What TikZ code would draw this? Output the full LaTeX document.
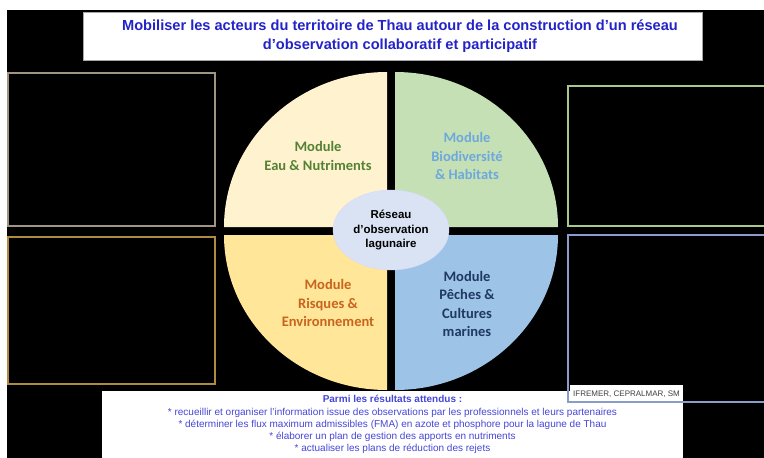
\documentclass[tikz,border=0pt]{standalone}
\usepackage{fontspec}
\setmainfont{Carlito}
\newfontfamily\arialfont{Liberation Sans}
\usetikzlibrary{shapes.geometric}

\definecolor{titleblue}{RGB}{35,35,200}
\definecolor{textblue}{RGB}{70,70,215}
\definecolor{eaufill}{RGB}{255,242,206}
\definecolor{biofill}{RGB}{197,224,180}
\definecolor{risqfill}{RGB}{255,230,153}
\definecolor{pechfill}{RGB}{157,195,230}
\definecolor{centrefill}{RGB}{218,227,243}
\definecolor{eautext}{RGB}{84,130,53}
\definecolor{biotext}{RGB}{111,168,220}
\definecolor{risqtext}{RGB}{200,100,30}
\definecolor{pechtext}{RGB}{31,56,100}
\definecolor{taupe}{RGB}{160,148,130}
\definecolor{gold}{RGB}{176,138,62}
\definecolor{sage}{RGB}{169,201,138}
\definecolor{lavender}{RGB}{138,156,200}

\begin{document}
\begin{tikzpicture}[x=1pt,y=-1pt]

      \useasboundingbox (0,0) rectangle (764,458);
      \clip (0,0) rectangle (764,458);
      \fill[white] (0,0) rectangle (764,458);
      \fill[black] (7,10) rectangle (764,458);

      % cadres lateraux
      \begin{scope}[line width=1.6pt]
        \draw[taupe] (8,73) rectangle (215,226);
        \draw[gold]  (8,237) rectangle (215,384);
        \draw[sage]  (568,86) rectangle (775,226);
      \end{scope}

      % titre
      \node[rectangle, fill=white, draw=gray!70, minimum width=619pt, minimum height=48pt] (titre) at (392.5,36) {};
      \node[font=\arialfont\bfseries\fontsize{14.6}{19}\selectfont, text=titleblue, align=center] (titretxt) at (400,36)
        {Mobiliser les acteurs du territoire de Thau autour de la construction d’un réseau\\
         d’observation collaboratif et participatif};

      % les quatre modules
      \fill[eaufill]  (387,227) -- (224,227) arc[start angle=180, end angle=270, x radius=163, y radius=155] -- cycle;
      \fill[biofill]  (395,227) -- (395,72)  arc[start angle=270, end angle=360, x radius=163, y radius=155] -- cycle;
      \fill[risqfill] (387,235) -- (224,235) arc[start angle=180, end angle=90,  x radius=163, y radius=155] -- cycle;
      \fill[pechfill] (395,235) -- (558,235) arc[start angle=0,   end angle=90,  x radius=163, y radius=155] -- cycle;

      \begin{scope}[every node/.style={font=\bfseries\fontsize{14.5}{18.5}\selectfont, align=center}]
        \node[text=eautext]  (eau)  at (318,156) {Module\\Eau \& Nutriments};
        \node[text=biotext]  (bio)  at (467,156) {Module\\Biodiversité\\\& Habitats};
        \node[text=risqtext] (risq) at (328,303) {Module\\Risques \&\\Environnement};
        \node[text=pechtext] (pech) at (467,304) {Module\\Pêches \&\\Cultures\\marines};
      \end{scope}

      \node[ellipse, fill=centrefill, draw=white!85!blue, minimum width=116pt, minimum height=80pt] (reseau) at (391,230) {};
      \node[font=\arialfont\bfseries\fontsize{11.5}{14.5}\selectfont, align=center] (reseautxt) at (391,230)
        {Réseau\\d’observation\\lagunaire};

      % resultats attendus
      \fill[white] (102,391) rectangle (683,470);
      \fill[white] (570,385) rectangle (683,391);
      \node[font=\arialfont\fontsize{8}{9}\selectfont, text=black!75, anchor=west, inner sep=0pt] (partenaires) at (573,394)
        {IFREMER, CEPRALMAR, SM};
      \node[font=\arialfont\fontsize{10}{12.1}\selectfont, text=textblue, align=center] (resultats) at (392.5,424.5)
        {{\bfseries Parmi les résultats attendus :}\\
         * recueillir et organiser l’information issue des observations par les professionnels et leurs partenaires\\
         * déterminer les flux maximum admissibles (FMA) en azote et phosphore pour la lagune de Thau\\
         * élaborer un plan de gestion des apports en nutriments\\
         * actualiser les plans de réduction des rejets};

      \draw[lavender, line width=1.6pt] (568,235) rectangle (775,402);

    \end{tikzpicture}
\end{document}
